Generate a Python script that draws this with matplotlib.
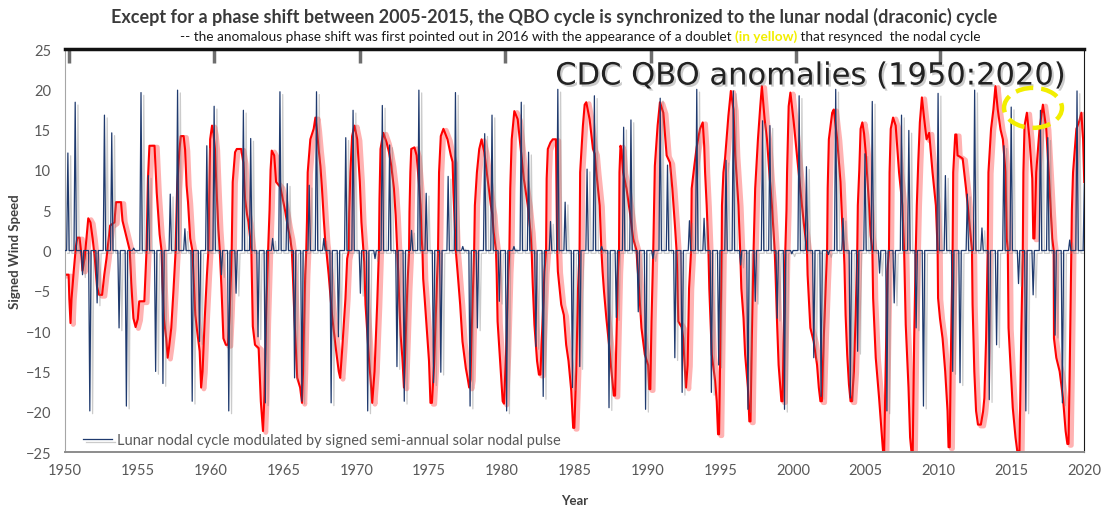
import numpy as np
import matplotlib
matplotlib.use("Agg")
import matplotlib.pyplot as plt
from matplotlib import patheffects as pe
from matplotlib.patches import Ellipse

plt.rcParams['font.family'] = ['Lato', 'DejaVu Sans']

# CDC QBO anomalies (red trace), corner points: (year, value)
qbo_points = [
    (1950.0, -3.0), (1950.25, -3.0), (1950.3, -6.0), (1950.38, -9.0), (1950.45, -6.0), (1950.6, -2.6),
    (1950.75, 0.5), (1950.85, 1.6), (1951.0, 1.6), (1951.1, 0.0), (1951.2, -2.5), (1951.35, -1.0),
    (1951.5, 2.0), (1951.6, 4.0), (1951.75, 3.5), (1951.9, 1.5), (1952.05, -1.0), (1952.2, -4.5),
    (1952.35, -5.5), (1952.55, -5.5), (1952.7, -3.0), (1952.85, -1.0), (1953.0, 1.5), (1953.1, 3.1),
    (1953.4, 3.5), (1953.5, 6.0), (1953.85, 6.0), (1953.95, 3.7), (1954.25, 1.5), (1954.45, 0.0),
    (1954.55, -4.0), (1954.7, -8.4), (1954.85, -9.5), (1955.0, -8.5), (1955.1, -6.3), (1955.45, -6.3),
    (1955.55, -2.0), (1955.6, 0.0), (1955.7, 9.0), (1955.8, 13.0), (1956.15, 13.0), (1956.25, 9.0),
    (1956.3, 7.2), (1956.5, 2.0), (1956.63, 0.0), (1956.7, -4.0), (1956.8, -8.5), (1956.95, -10.9),
    (1957.05, -13.3), (1957.15, -12.0), (1957.3, -9.6), (1957.45, -5.0), (1957.6, 0.0), (1957.7, 7.7),
    (1957.85, 12.2), (1957.95, 14.2), (1958.15, 14.2), (1958.25, 12.5), (1958.35, 8.1), (1958.45, 6.0),
    (1958.6, 1.5), (1958.75, 0.0), (1958.85, -4.0), (1958.95, -8.0), (1959.05, -9.6), (1959.25, -12.5),
    (1959.35, -17.0), (1959.45, -15.0), (1959.6, -8.4), (1959.75, -3.0), (1959.85, 0.0), (1959.9, 6.0),
    (1959.97, 13.8), (1960.1, 15.5), (1960.2, 14.5), (1960.3, 12.6), (1960.42, 7.2), (1960.53, 2.7),
    (1960.63, 0.0), (1960.75, -4.7), (1960.88, -10.9), (1961.05, -11.7), (1961.2, -11.7), (1961.3, -8.0),
    (1961.4, -3.0), (1961.45, 0.0), (1961.52, 8.5), (1961.68, 12.2), (1961.8, 12.6), (1962.1, 12.6),
    (1962.25, 10.9), (1962.37, 6.4), (1962.5, 4.5), (1962.6, 3.5), (1962.72, 1.5), (1962.8, 0.0),
    (1962.85, -5.0), (1962.9, -9.4), (1963.05, -11.7), (1963.3, -12.1), (1963.45, -18.7), (1963.6, -22.4),
    (1963.7, -18.0), (1963.8, -9.0), (1963.95, 0.0), (1964.05, 5.0), (1964.12, 10.0), (1964.2, 12.4),
    (1964.37, 11.8), (1964.5, 8.5), (1964.78, 7.9), (1964.9, 6.9), (1965.13, 4.8), (1965.29, 3.1),
    (1965.47, 1.5), (1965.58, 0.0), (1965.65, -3.0), (1965.75, -8.0), (1965.85, -12.0), (1965.95, -15.8),
    (1966.15, -17.0), (1966.28, -18.9), (1966.35, -15.0), (1966.42, -9.6), (1966.5, -3.0), (1966.57, 0.0),
    (1966.62, 3.7), (1966.67, 9.7), (1966.85, 13.8), (1967.08, 15.1), (1967.2, 16.5), (1967.3, 15.0),
    (1967.42, 12.6), (1967.54, 10.5), (1967.65, 7.7), (1967.77, 4.0), (1967.88, 1.0), (1967.95, 0.0),
    (1968.11, -3.0), (1968.34, -8.0), (1968.57, -11.7), (1968.8, -15.0), (1968.9, -15.8), (1969.03, -12.5),
    (1969.26, -6.0), (1969.38, -1.0), (1969.49, 0.0), (1969.52, 4.8), (1969.6, 9.7), (1969.72, 14.2),
    (1969.88, 15.5), (1970.07, 13.8), (1970.25, 8.5), (1970.36, 3.5), (1970.5, 0.0), (1970.55, -1.4),
    (1970.64, -6.7), (1970.87, -13.3), (1970.98, -15.8), (1971.1, -18.9), (1971.26, -15.0), (1971.44, -6.7),
    (1971.56, 0.0), (1971.6, 6.4), (1971.67, 12.6), (1971.86, 14.6), (1972.09, 13.4), (1972.25, 12.2),
    (1972.41, 10.5), (1972.59, 7.7), (1972.71, 4.4), (1972.82, 0.0), (1972.88, -2.5), (1972.94, -5.5),
    (1973.05, -10.5), (1973.17, -13.3), (1973.28, -17.0), (1973.4, -10.9), (1973.51, -4.7), (1973.63, 0.0),
    (1973.66, 4.8), (1973.72, 9.7), (1973.78, 12.6), (1974.0, 12.8), (1974.15, 11.8), (1974.3, 8.5),
    (1974.42, 5.6), (1974.5, 1.5), (1974.55, 0.0), (1974.6, -3.5), (1974.7, -5.9), (1974.84, -9.6),
    (1975.0, -13.7), (1975.1, -18.9), (1975.2, -18.9), (1975.35, -14.2), (1975.53, -4.7), (1975.62, 0.0),
    (1975.66, 5.0), (1975.69, 9.7), (1975.81, 14.2), (1975.99, 15.1), (1976.27, 13.8), (1976.5, 11.8),
    (1976.62, 11.0), (1976.68, 7.2), (1976.77, 3.1), (1976.84, 0.0), (1976.96, -2.6), (1977.14, -6.7),
    (1977.3, -11.3), (1977.53, -14.6), (1977.65, -15.8), (1977.76, -17.0), (1977.85, -16.0), (1977.92, -10.9),
    (1978.06, -2.6), (1978.1, 0.0), (1978.15, 5.6), (1978.29, 9.7), (1978.45, 12.6), (1978.61, 13.8),
    (1978.8, 12.2), (1979.02, 8.9), (1979.25, 5.6), (1979.35, 4.5), (1979.44, 2.3), (1979.6, 0.0),
    (1979.65, -3.0), (1979.71, -8.8), (1979.94, -15.4), (1980.06, -18.7), (1980.15, -19.0), (1980.29, -12.9),
    (1980.45, -2.6), (1980.52, 0.0), (1980.58, 7.7), (1980.68, 13.8), (1980.86, 17.3), (1981.09, 16.3),
    (1981.28, 13.0), (1981.51, 8.9), (1981.78, 5.6), (1981.97, 2.3), (1982.05, 0.0), (1982.12, -4.0),
    (1982.24, -9.2), (1982.42, -13.7), (1982.55, -15.4), (1982.65, -15.4), (1982.72, -12.3), (1982.93, -2.6),
    (1983.04, 0.0), (1983.08, 8.9), (1983.16, 12.6), (1983.34, 13.4), (1983.5, 13.8), (1983.72, 13.8),
    (1983.76, 7.0), (1983.8, 0.0), (1983.85, -2.6), (1984.08, -6.7), (1984.26, -8.0), (1984.42, -11.7),
    (1984.58, -13.7), (1984.77, -17.4), (1984.9, -22.0), (1984.98, -22.0), (1985.11, -15.0), (1985.23, -5.0),
    (1985.34, 0.0), (1985.38, 9.7), (1985.57, 15.5), (1985.69, 18.1), (1985.8, 18.4), (1986.03, 16.3),
    (1986.26, 12.6), (1986.38, 12.0), (1986.49, 9.7), (1986.72, 5.6), (1986.84, 0.0), (1986.92, -2.6),
    (1987.02, -5.1), (1987.18, -8.4), (1987.41, -12.5), (1987.53, -15.0), (1987.69, -18.0), (1987.78, -18.0),
    (1987.87, -10.9), (1987.98, -2.6), (1988.05, 0.0), (1988.08, 9.7), (1988.15, 13.0), (1988.22, 12.5),
    (1988.33, 9.7), (1988.56, 7.7), (1988.79, 4.8), (1989.02, 1.5), (1989.25, 0.0), (1989.3, -1.5),
    (1989.41, -4.3), (1989.59, -9.6), (1989.82, -12.9), (1990.05, -14.2), (1990.12, -17.2), (1990.2, -17.2),
    (1990.28, -8.8), (1990.4, 0.0), (1990.45, 5.0), (1990.51, 10.5), (1990.7, 15.5), (1990.86, 18.4),
    (1991.09, 17.1), (1991.32, 11.8), (1991.55, 10.9), (1991.71, 7.7), (1991.89, 3.1), (1992.0, 0.0),
    (1992.05, -3.0), (1992.12, -8.8), (1992.35, -9.5), (1992.46, -10.9), (1992.58, -15.0), (1992.65, -17.0),
    (1992.76, -14.2), (1992.86, -4.7), (1993.0, 0.0), (1993.04, 7.7), (1993.22, 10.5), (1993.38, 12.8),
    (1993.61, 15.1), (1993.8, 15.9), (1993.9, 13.0), (1993.96, 9.7), (1994.07, 5.6), (1994.19, 0.0),
    (1994.25, -4.7), (1994.42, -12.9), (1994.65, -16.2), (1994.76, -18.7), (1994.85, -22.8), (1994.92, -22.8),
    (1994.99, -14.2), (1995.1, 0.0), (1995.12, 5.6), (1995.22, 9.7), (1995.33, 11.4), (1995.56, 16.7),
    (1995.73, 19.8), (1995.91, 17.5), (1996.03, 11.8), (1996.25, 5.6), (1996.37, 0.0), (1996.45, -4.7),
    (1996.6, -8.4), (1996.71, -12.9), (1996.9, -17.0), (1997.0, -21.2), (1997.08, -21.2), (1997.17, -10.9),
    (1997.29, 0.0), (1997.4, 7.7), (1997.59, 13.8), (1997.75, 17.9), (1997.86, 20.4), (1998.05, 16.3),
    (1998.21, 13.8), (1998.4, 9.0), (1998.55, 5.6), (1998.74, 0.0), (1998.8, -3.0), (1998.9, -8.8),
    (1999.01, -14.2), (1999.13, -17.0), (1999.2, -18.7), (1999.28, -18.7), (1999.36, -10.9), (1999.47, 0.0),
    (1999.55, 5.0), (1999.59, 9.7), (1999.7, 17.9), (1999.82, 19.6), (2000.05, 15.9), (2000.27, 11.8),
    (2000.5, 7.7), (2000.73, 3.5), (2000.96, 0.0), (2001.0, -3.0), (2001.19, -9.6), (2001.42, -11.3),
    (2001.65, -14.2), (2001.77, -17.0), (2001.88, -18.7), (2001.98, -18.7), (2002.11, -10.9), (2002.25, -4.0),
    (2002.34, 0.0), (2002.38, 7.7), (2002.46, 13.8), (2002.69, 17.1), (2002.8, 17.5), (2003.03, 13.8),
    (2003.26, 8.5), (2003.42, 1.5), (2003.49, 0.0), (2003.53, -1.8), (2003.61, -8.0), (2003.72, -12.9),
    (2003.84, -16.6), (2003.95, -18.7), (2004.05, -18.7), (2004.18, -15.0), (2004.3, -8.0), (2004.41, 0.0),
    (2004.45, 5.6), (2004.55, 10.0), (2004.64, 15.1), (2004.76, 15.9), (2004.88, 14.5), (2004.99, 12.2),
    (2005.1, 9.0), (2005.22, 5.6), (2005.33, 1.9), (2005.45, 0.0), (2005.5, -5.9), (2005.68, -13.3),
    (2005.91, -18.3), (2006.09, -22.8), (2006.18, -24.9), (2006.26, -24.9), (2006.36, -15.0), (2006.48, -2.6),
    (2006.59, 0.0), (2006.63, 9.7), (2006.71, 15.1), (2006.87, 16.5), (2007.05, 15.5), (2007.28, 9.7),
    (2007.51, 5.6), (2007.63, 0.0), (2007.68, -4.0), (2007.74, -9.2), (2007.93, -17.0), (2008.04, -23.2),
    (2008.13, -24.9), (2008.22, -24.9), (2008.32, -10.9), (2008.43, 0.0), (2008.5, 5.6), (2008.6, 11.0),
    (2008.71, 15.9), (2008.85, 19.0), (2009.01, 16.3), (2009.17, 13.8), (2009.35, 14.6), (2009.45, 12.5),
    (2009.58, 9.7), (2009.81, 5.6), (2009.93, 0.0), (2009.96, -5.9), (2010.09, -8.4), (2010.27, -10.9),
    (2010.45, -15.0), (2010.61, -19.9), (2010.68, -24.4), (2010.76, -24.4), (2010.84, -12.9), (2010.96, 0.0),
    (2011.0, 9.7), (2011.14, 14.4), (2011.22, 14.4), (2011.3, 11.8), (2011.5, 11.6), (2011.65, 11.4),
    (2011.88, 7.7), (2012.11, 3.5), (2012.29, 0.0), (2012.33, -6.7), (2012.45, -15.0), (2012.57, -19.9),
    (2012.7, -21.6), (2012.9, -21.6), (2013.05, -20.0), (2013.14, -18.3), (2013.26, -10.9), (2013.37, 0.0),
    (2013.42, 9.7), (2013.6, 15.1), (2013.76, 17.5), (2013.9, 20.4), (2014.06, 17.5), (2014.25, 15.0),
    (2014.41, 13.8), (2014.59, 9.7), (2014.68, 1.5), (2014.75, 0.0), (2014.8, -9.6), (2015.09, -19.5),
    (2015.28, -23.2), (2015.4, -24.9), (2015.55, -24.9), (2015.67, -10.9), (2015.78, 0.0), (2015.82, 9.7),
    (2015.9, 15.5), (2016.06, 17.1), (2016.24, 13.8), (2016.43, 8.9), (2016.5, 1.5), (2016.58, 1.5),
    (2016.7, 9.7), (2016.93, 15.1), (2017.16, 18.1), (2017.39, 15.1), (2017.62, 7.7), (2017.8, 1.5),
    (2017.9, 0.0), (2017.92, -10.9), (2018.08, -13.3), (2018.31, -15.0), (2018.54, -18.3), (2018.72, -22.4),
    (2018.84, -24.0), (2018.92, -24.0), (2019.0, -15.0), (2019.11, 0.0), (2019.15, 5.0), (2019.23, 9.7),
    (2019.46, 15.1), (2019.65, 16.0), (2019.8, 17.1), (2019.92, 13.8), (2020.0, 8.5),
]

# semi-annual signed nodal pulse (blue spikes), one value per half year
pulse_start = 1950.2
pulse_step = 0.5022
nodal_pulse = [
    12.1, 18.4, -3.0, -19.9, -6.5, 16.8, 14.6, -9.6, -19.3, 0.3,
    19.6, 9.3, -15.0, -16.5, 7.0, 19.9, 2.7, -18.7, -11.3, 13.0,
    17.9, -3.0, -19.9, -5.3, 17.4, 13.9, -10.7, -18.9, 1.5, 19.7,
    8.3, -15.8, -18.7, 8.1, 19.7, 1.5, -18.9, -10.7, 14.0, 17.4,
    -5.3, -19.9, -1.0, 18.0, 13.1, -14.4, -18.7, 2.5, 19.9, 7.1,
    -16.4, -15.1, 9.2, 19.6, 0.5, -19.3, -9.6, 14.5, 16.8, -6.3,
    -19.9, 0.5, 18.4, 12.2, -11.9, -18.1, 3.6, 20.0, 6.0, -17.0,
    -14.4, 10.1, 19.2, 0.5, -19.5, -8.3, 15.3, 16.2, -7.6, -19.7,
    -1.0, 18.9, 10.6, -13.3, -17.6, 3.7, 20.0, 4.0, -17.6, -14.2,
    11.2, 19.8, -1.8, -19.7, -6.3, 16.1, 15.5, -8.4, -19.7, -0.4,
    19.2, 10.4, -13.3, -18.1, -0.5, 20.0, 4.0, -18.3, -12.5, 12.0,
    18.5, -2.8, -19.9, -6.5, 16.8, 14.9, -9.6, -19.3, 0.0, 19.5,
    9.3, -15.0, -16.4, 7.0, 19.9, 2.8, -18.5, -11.7, 13.0, 17.8,
    -4.1, -19.9, -5.5, 17.4, 14.0, -10.5, -18.9, 1.3, 19.8, 8.3,
]

x_ticks = list(range(1950, 2021, 5))
y_ticks = list(range(-25, 26, 5))
cdc_top_ticks = [1950.25, 1960.25, 1970.25, 1980.2, 1990.25, 2000.2, 2010.1]

title = ("Except for a phase shift between 2005-2015, the QBO cycle is "
         "synchronized to the lunar nodal (draconic) cycle")
sub_a = "-- the anomalous phase shift was first pointed out in 2016 with the appearance of a doublet "
sub_b = "(in yellow)"
sub_c = " that resynced  the nodal cycle"
legend_label = "Lunar nodal cycle modulated by signed semi-annual solar nodal pulse"

fig = plt.figure(figsize=(11.03, 5.06), dpi=100)
ax = fig.add_axes([0.0589, 0.1047, 0.9241, 0.7964])

qy, qv = zip(*qbo_points)
ax.plot(qy, qv, color='#ff0000', lw=1.5, zorder=2,
        path_effects=[pe.SimpleLineShadow(offset=(2, -1), shadow_color='#ff0000',
                                          alpha=0.3, linewidth=3.5),
                      pe.Normal()])

t = pulse_start + pulse_step * np.arange(len(nodal_pulse))
zeros = np.zeros_like(t)
bx = np.concatenate([[1950.0], np.column_stack([t - 1 / 12, t, t + 1 / 12]).ravel(), [2020.0]])
by = np.concatenate([[0.0], np.column_stack([zeros, nodal_pulse, zeros]).ravel(), [0.0]])
ax.plot(bx, by, color='#1f3a6e', lw=0.9, zorder=3, label=legend_label,
        path_effects=[pe.SimpleLineShadow(offset=(2, -2), shadow_color='#7f7f7f', alpha=0.4),
                      pe.Normal()])

ax.set_xlim(1950, 2020)
ax.set_ylim(-25, 25)
ax.set_xticks(x_ticks)
ax.set_yticks(y_ticks)
ax.tick_params(length=0, labelsize=10.5, labelcolor='#595959')
ax.tick_params(axis='x', pad=8)
ax.tick_params(axis='y', pad=10)

ax.spines['left'].set_color('#a6a6a6')
ax.spines['bottom'].set_color('#8c8c8c')
ax.spines['bottom'].set_linewidth(1.4)
ax.spines['right'].set_color('#1a1a1a')
ax.spines['top'].set_color('#111111')
ax.spines['top'].set_linewidth(2.5)

top = ax.secondary_xaxis('top')
top.set_xticks(cdc_top_ticks)
top.tick_params(direction='in', length=10, width=2.5, color='#6e6e6e', labeltop=False)
top.spines['top'].set_visible(False)

ax.set_xlabel('Year', fontsize=9.5, fontweight='bold', color='#404040')
ax.xaxis.set_label_coords(0.5, -0.105)
ax.set_ylabel('Signed Wind Speed', fontsize=9.5, fontweight='bold', color='#404040')
ax.yaxis.set_label_coords(-0.043, 0.5)

ax.legend(loc='lower left', frameon=False, fontsize=10.5, labelcolor='#595959',
          handlelength=2.0, handletextpad=0.3, bbox_to_anchor=(0.005, -0.02))

ax.text(0.481, 0.933, 'CDC QBO anomalies (1950:2020)', transform=ax.transAxes,
        family='DejaVu Sans', fontsize=22, color='#222222', va='center', ha='left',
        path_effects=[pe.SimplePatchShadow(offset=(1.5, -1.5), shadow_rgbFace='#808080', alpha=0.4),
                      pe.Normal()])

ax.add_patch(Ellipse((2016.48, 17.7), 3.98, 4.96, fill=False, edgecolor='#f2ee00',
                     lw=3.2, linestyle=(0, (4, 1.8)), zorder=4))

fig.text(0.502, 0.966, title, ha='center', va='center', fontsize=13,
         fontweight='bold', color='#3a3a3a')
s1 = fig.text(0.163, 0.927, sub_a, ha='left', va='center', fontsize=9.85, color='#1a1a1a')
s2 = ax.annotate(sub_b, xy=(1, 0), xycoords=s1, va='bottom', ha='left', fontsize=9.85,
                 fontweight='bold', color='#f2ee00')
ax.annotate(sub_c, xy=(1, 0), xycoords=s2, va='bottom', ha='left', fontsize=9.85, color='#1a1a1a')

fig.savefig('out.png', dpi=100)
